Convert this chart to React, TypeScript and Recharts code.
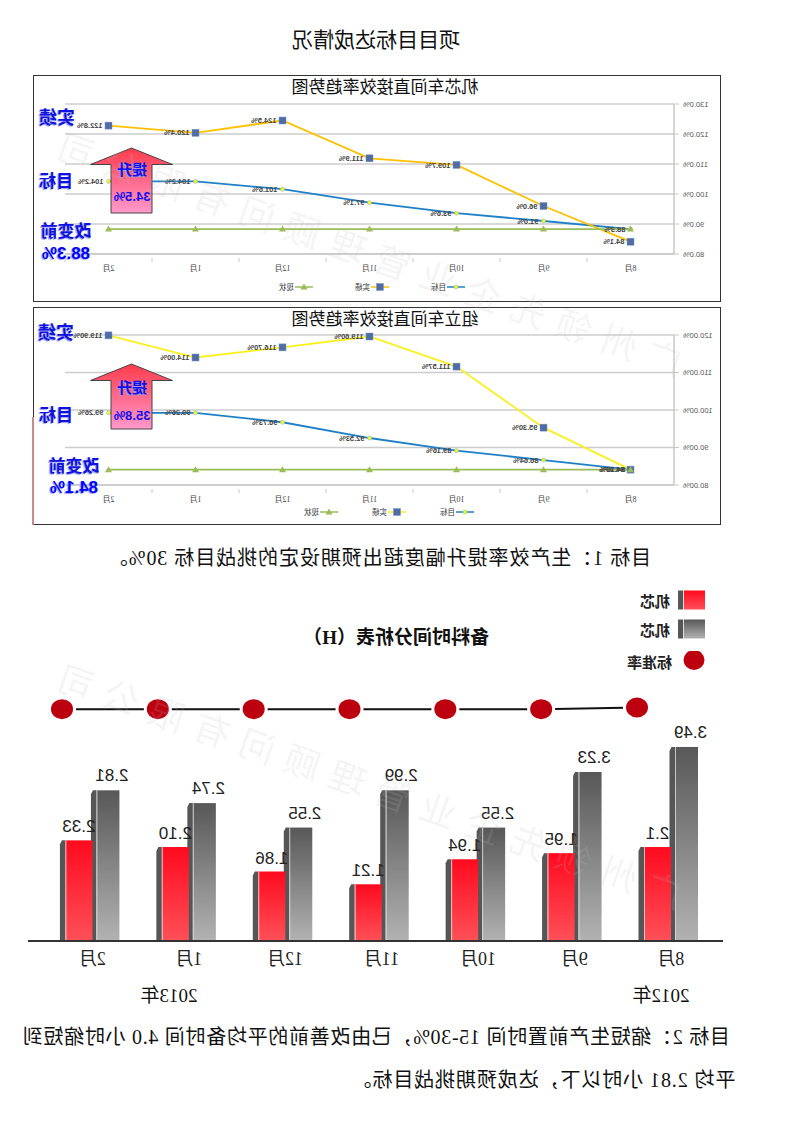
import React from "react";
import {
  Bar,
  CartesianGrid,
  ComposedChart,
  LabelList,
  Legend,
  Line,
  LineChart,
  XAxis,
  YAxis,
} from "recharts";

const SANS = '"Liberation Sans", "Noto Sans CJK SC", sans-serif';
const CJK = '"Liberation Serif", "Noto Sans CJK SC", serif';

const trendMonths = ["8月", "9月", "10月", "11月", "12月", "1月", "2月"];

const coreTarget = [88.3, 91.0, 93.6, 97.1, 101.6, 104.2, 104.2];
const coreActual = [84.1, 96.0, 109.7, 111.9, 124.5, 120.4, 122.8];
const coreBase = [88.3, 88.3, 88.3, 88.3, 88.3, 88.3, 88.3];
const coreTicks = [80, 90, 100, 110, 120, 130];

const assyTarget = [84.1, 86.64, 89.16, 92.53, 96.73, 99.26, 99.26];
const assyActual = [84.1, 95.3, 111.57, 119.6, 116.7, 114.0, 119.9];
const assyBase = [84.1, 84.1, 84.1, 84.1, 84.1, 84.1, 84.1];
const assyTicks = [80, 90, 100, 110, 120];

const prepMonths = ["8月", "9月", "10月", "11月", "12月", "1月", "2月"];
// printed labels of the bars
const greyLabels = ["3.49", "3.23", "2.55", "2.99", "2.55", "2.74", "2.81"];
const redLabels = ["2.1", "1.95", "1.94", "1.21", "1.86", "2.10", "2.33"];
// the bars in the source are not drawn to scale with their labels, so these are read off the bar heights
const greyDrawn = [3.49, 3.04, 2.04, 2.71, 2.04, 2.48, 2.71];
const redDrawn = [1.69, 1.58, 1.47, 1.02, 1.25, 1.69, 1.81];
const standardRate = [4.2, 4.17, 4.17, 4.17, 4.17, 4.17, 4.17];

const Txt = ({ x, y, size, children, color = "#111", weight = 400, spacing = 0, shadow, family = CJK }: any) => (
  <div
    style={{
      position: "absolute",
      left: x,
      top: y,
      transform: "translate(-50%,-50%)",
      fontSize: size,
      fontWeight: weight,
      letterSpacing: spacing,
      color,
      whiteSpace: "nowrap",
      fontFamily: family,
      textShadow: shadow,
      lineHeight: 1,
    }}
  >
    {children}
  </div>
);

const SquareDot = ({ cx, cy }: any) => (
  <rect x={cx - 3.5} y={cy - 3.5} width={7} height={7} fill="#4F6CA8" stroke="#7F93BE" strokeWidth={0.5} />
);
const RoundDot = ({ cx, cy }: any) => (
  <circle cx={cx} cy={cy} r={2} fill="#FFFF00" stroke="#8DB4D8" strokeWidth={0.6} />
);
const TriDot = ({ cx, cy }: any) => (
  <path d={`M${cx} ${cy - 3.5}L${cx + 3.5} ${cy + 2.5}L${cx - 3.5} ${cy + 2.5}Z`} fill="#9BBB59" />
);

const markers: Record<string, any> = { 目标: RoundDot, 实绩: SquareDot, 现状: TriDot };

const TrendLegend = ({ payload, gap }: any) => (
  <div style={{ display: "flex", columnGap: gap, fontFamily: CJK, fontSize: 7.5, color: "#333" }}>
    {(payload || []).map((p: any) => {
      const M = markers[p.value];
      return (
        <div key={p.value} style={{ display: "flex", alignItems: "center", columnGap: 1 }}>
          <svg width={18} height={8}>
            <line x1={0} x2={18} y1={4} y2={4} stroke={p.color} strokeWidth={1.5} />
            <M cx={9} cy={4} />
          </svg>
          <span>{p.value}</span>
        </div>
      );
    })}
  </div>
);

const MonthTick = ({ x, y, payload, step }: any) => (
  <g>
    <text x={x} y={y + 9} textAnchor="middle" fontSize={8} fontFamily={CJK} fill="#444">
      {payload.value}
    </text>
    <line x1={x + step / 2} x2={x + step / 2} y1={y - 4} y2={y} stroke="#C8C8C8" />
  </g>
);

const TrendChart = ({ target, actual, base, ticks, domain, actualColor, digits, height, top, bottom, legendLeft, legendTop, legendGap }: any) => {
  const rows = trendMonths.map((month, i) => ({ month, target: target[i], actual: actual[i], base: base[i] }));
  const fmt = (v: number) => v.toFixed(digits) + "%";
  const labelStyle = { fontSize: 7.5, fontWeight: 700, fontFamily: SANS, fill: "#444" };
  return (
    <LineChart
      width={688}
      height={height}
      data={rows}
      margin={{ top, right: 32, bottom, left: 0 }}
    >
      <CartesianGrid vertical={false} stroke="#CCCCCC" strokeWidth={1.5} />
      <XAxis
        dataKey="month"
        height={30}
        interval={0}
        padding={{ left: 43.5, right: 43.5 }}
        axisLine={{ stroke: "#C8C8C8", strokeWidth: 1.5 }}
        tickLine={false}
        tick={(p: any) => <MonthTick {...p} step={87} />}
      />
      <YAxis
        width={47}
        domain={domain}
        ticks={ticks}
        interval={0}
        tickFormatter={(v: number) => v.toFixed(digits === 2 ? 2 : 1) + "%"}
        axisLine={{ stroke: "#C8C8C8", strokeWidth: 1.5 }}
        tickLine={{ stroke: "#C8C8C8" }}
        tickSize={5}
        tickMargin={4}
        tick={{ fontSize: 7.5, fontFamily: SANS, fill: "#555" }}
      />
      <Line
        dataKey="target"
        name="目标"
        stroke="#1F80C8"
        strokeWidth={1.8}
        dot={(p: any) => <RoundDot key={p.index} {...p} />}
        isAnimationActive={false}
      >
        <LabelList dataKey="target" position="right" offset={5} formatter={fmt} style={labelStyle} />
      </Line>
      <Line
        dataKey="actual"
        name="实绩"
        stroke={actualColor}
        strokeWidth={1.8}
        dot={(p: any) => <SquareDot key={p.index} {...p} />}
        isAnimationActive={false}
      >
        <LabelList dataKey="actual" position="right" offset={6} formatter={fmt} style={labelStyle} />
      </Line>
      <Line
        dataKey="base"
        name="现状"
        stroke="#9BBB59"
        strokeWidth={1.8}
        dot={(p: any) => <TriDot key={p.index} {...p} />}
        isAnimationActive={false}
      />
      <Legend
        layout="horizontal"
        verticalAlign="middle"
        itemSorter={null}
        wrapperStyle={{ left: legendLeft, top: legendTop, width: 260 }}
        content={(p: any) => <TrendLegend {...p} gap={legendGap} />}
      />
    </LineChart>
  );
};

const Arrow = ({ top, id }: { top: number; id: string }) => (
  <svg
    width={90}
    height={72}
    style={{ position: "absolute", left: 620, top, overflow: "visible" }}
    viewBox="0 0 90 72"
  >
    <defs>
      <linearGradient id={id} x1="0" y1="0" x2="0" y2="1">
        <stop offset="0%" stopColor="#FF3B4B" />
        <stop offset="100%" stopColor="#FF99CC" />
      </linearGradient>
    </defs>
    <path
      d="M41.5 0L82.5 16.5H62V65H21V16.5H0.5Z"
      fill={`url(#${id})`}
      stroke="#444"
      strokeWidth={1}
    />
  </svg>
);

const BarShape = ({ x, y, width, height, gradient }: any) => {
  const side = 5.5;
  return (
    <g>
      <path
        d={`M${x + width} ${y}L${x + width + side - 2} ${y}L${x + width + side} ${y + 4}L${x + width + side} ${y + height}L${x + width} ${y + height}Z`}
        fill="#565656"
      />
      <rect x={x} y={y} width={width} height={height} fill={`url(#${gradient})`} />
      <rect x={x + width - 1} y={y} width={1} height={height} fill="#E0E0E0" opacity={0.8} />
    </g>
  );
};

const PrepLegend = ({ payload }: any) => {
  const items = payload || [];
  const order = [items[1], items[0], items[2]].filter(Boolean);
  return (
    <div style={{ fontFamily: CJK, fontSize: 15, fontWeight: 700, color: "#222" }}>
      {order.map((p: any, i: number) => (
        <div key={i} style={{ display: "flex", alignItems: "center", height: 20, marginBottom: i === 0 ? 9 : 12, columnGap: 8 }}>
          <svg width={27} height={20}>
            {i < 2 ? (
              <>
                <rect x={0} y={0.5} width={21} height={19} fill={i === 0 ? "url(#redFront)" : "url(#greyFront)"} />
                <rect x={21} y={0.5} width={1} height={19} fill="#DDD" />
                <rect x={22} y={0.5} width={5} height={19} fill="#565656" />
              </>
            ) : (
              <ellipse cx={11} cy={9} rx={10.5} ry={10} fill="#BC0010" />
            )}
          </svg>
          <span style={i === 2 ? { marginLeft: -2 } : undefined}>{p.value}</span>
        </div>
      ))}
    </div>
  );
};

const BarValue = ({ x, y, width, value, dx, dy }: any) => (
  <text
    x={x + width / 2 + dx}
    y={y + dy}
    textAnchor="middle"
    fontSize={17}
    fontFamily={SANS}
    fill="#222"
  >
    {value}
  </text>
);

const PrepChart = () => {
  const rows = prepMonths.map((month, i) => ({
    month,
    grey: greyDrawn[i],
    red: redDrawn[i],
    rate: standardRate[i],
    greyLabel: greyLabels[i],
    redLabel: redLabels[i],
  }));
  return (
    <ComposedChart
      width={793}
      height={420}
      data={rows}
      margin={{ top: 83, right: 28, bottom: 29, left: 70 }}
    >
      <defs>
        <linearGradient id="redFront" x1="0" y1="0" x2="0" y2="1">
          <stop offset="0%" stopColor="#FF0A1E" />
          <stop offset="100%" stopColor="#FF5058" />
        </linearGradient>
        <linearGradient id="greyFront" x1="0" y1="0" x2="0" y2="1">
          <stop offset="0%" stopColor="#585858" />
          <stop offset="100%" stopColor="#B2B2B2" />
        </linearGradient>
      </defs>
      <XAxis
        dataKey="month"
        height={30}
        scale="band"
        interval={0}
        padding={{ left: 4, right: 16 }}
        axisLine={{ stroke: "#333", strokeWidth: 2 }}
        tickLine={false}
        tickMargin={5}
        tick={{ fontSize: 18, fontFamily: CJK, fill: "#222" }}
      />
      <XAxis
        xAxisId="rate"
        dataKey="month"
        scale="point"
        hide
        padding={{ left: 86, right: 34 }}
      />
      <YAxis hide domain={[0, 5]} />
      <Bar
        dataKey="grey"
        name="机芯"
        barSize={23}
        fill="#8A8A8A"
        shape={(p: any) => <BarShape {...p} gradient="greyFront" />}
        isAnimationActive={false}
      >
        <LabelList dataKey="greyLabel" content={(p: any) => <BarValue {...p} dx={-4} dy={-9} />} />
      </Bar>
      <Bar
        dataKey="red"
        name="机芯"
        barSize={27}
        fill="#FF2030"
        shape={(p: any) => <BarShape {...p} gradient="redFront" />}
        isAnimationActive={false}
      >
        <LabelList dataKey="redLabel" content={(p: any) => <BarValue {...p} dx={0} dy={-8} />} />
      </Bar>
      <Line
        xAxisId="rate"
        dataKey="rate"
        name="标准率"
        stroke="#111"
        strokeWidth={2}
        dot={({ cx, cy, index }: any) => (
          <ellipse key={index} cx={cx} cy={cy} rx={12.5} ry={11.5} fill="#BC0010" stroke="#FFF" strokeWidth={3} />
        )}
        isAnimationActive={false}
      />
      <Legend
        layout="horizontal"
        verticalAlign="middle"
        itemSorter={null}
        wrapperStyle={{ left: 88, top: 10, width: 120 }}
        content={(p: any) => <PrepLegend {...p} />}
      />
    </ComposedChart>
  );
};

const Frame = ({ top, height }: { top: number; height: number }) => (
  <div
    style={{
      position: "absolute",
      left: 72,
      top,
      width: 686,
      height: height - 2,
      border: "1px solid #333",
    }}
  />
);

const Mark = ({ x, y }: { x: number; y: number }) => (
  <div
    style={{
      position: "absolute",
      left: x,
      top: y,
      transformOrigin: "0 50%",
      transform: "rotate(-19.5deg)",
      fontFamily: CJK,
      fontSize: 36,
      letterSpacing: 12,
      whiteSpace: "nowrap",
      color: "rgba(190,190,190,0.16)",
      pointerEvents: "none",
      lineHeight: 1,
    }}
  >
    广州领先企业管理顾问有限公司
  </div>
);

const blueGlow = "1px 1px 1px #9AA0E8";

export default function App() {
  return (
    <div
      style={{
        position: "absolute",
        left: 0,
        top: 0,
        width: 793,
        height: 1122,
        background: "#FFF",
        overflow: "hidden",
        transform: "scaleX(-1)",
      }}
    >
      <Txt x={417} y={40} size={21}>项目目标达成情况</Txt>

      <Frame top={75} height={227} />
      <div style={{ position: "absolute", left: 72, top: 75 }}>
        <TrendChart
          target={coreTarget}
          actual={coreActual}
          base={coreBase}
          ticks={coreTicks}
          domain={[80, 130]}
          actualColor="#FFC000"
          digits={1}
          height={227}
          top={29}
          bottom={18}
          legendLeft={256}
          legendTop={206}
          legendGap={42}
        />
      </div>
      <Txt x={408} y={87} size={17}>机芯车间直接效率趋势图</Txt>
      <Arrow top={148} id="arrowA" />
      <Txt x={661} y={170} size={15} weight={700} color="#1010F0" shadow={blueGlow}>提升</Txt>
      <Txt x={661} y={196} size={13} weight={700} color="#1010F0" family={SANS}>34.5%</Txt>
      <Txt x={736} y={118} size={18} weight={700} color="#1010E0" shadow={blueGlow}>实绩</Txt>
      <Txt x={737} y={181} size={17} weight={700} color="#1010E0" shadow={blueGlow}>目标</Txt>
      <Txt x={727} y={231} size={17} weight={700} color="#1010E0" shadow={blueGlow}>改变前</Txt>
      <Txt x={727} y={253} size={17} weight={700} color="#0000FF" family={SANS} shadow={blueGlow}>88.3%</Txt>

      <Frame top={307} height={218} />
      <div style={{ position: "absolute", left: 759, top: 417, width: 1.5, height: 108, background: "#C88A8A" }} />
      <div style={{ position: "absolute", left: 72, top: 307 }}>
        <TrendChart
          target={assyTarget}
          actual={assyActual}
          base={assyBase}
          ticks={assyTicks}
          domain={[80, 120]}
          actualColor="#FAF01E"
          digits={2}
          height={218}
          top={28}
          bottom={10}
          legendLeft={247}
          legendTop={199}
          legendGap={34}
        />
      </div>
      <Txt x={408} y={319} size={17}>组立车间直接效率趋势图</Txt>
      <Arrow top={364} id="arrowB" />
      <Txt x={661} y={388} size={15} weight={700} color="#1010F0" shadow={blueGlow}>提升</Txt>
      <Txt x={661} y={415} size={13} weight={700} color="#1010F0" family={SANS}>35.8%</Txt>
      <Txt x={737} y={333} size={18} weight={700} color="#1010E0" shadow={blueGlow}>实绩</Txt>
      <Txt x={737} y={415} size={17} weight={700} color="#1010E0" shadow={blueGlow}>目标</Txt>
      <Txt x={719} y={466} size={17} weight={700} color="#1010E0" shadow={blueGlow}>改变前</Txt>
      <Txt x={719} y={487} size={17} weight={700} color="#0000FF" family={SANS} shadow={blueGlow}>84.1%</Txt>

      <Txt x={414} y={558} size={20} spacing={0.95}>目标 1：生产效率提升幅度超出预期设定的挑战目标 30%。</Txt>

      <div style={{ position: "absolute", left: 0, top: 580 }}>
        <PrepChart />
      </div>
      <Txt x={397} y={637} size={19} weight={700}>备料时间分析表（H）</Txt>
      <Txt x={132} y={995} size={19}>2012年</Txt>
      <Txt x={624} y={995} size={19}>2013年</Txt>

      <Txt x={417} y={1037} size={20} spacing={0.7}>目标 2：缩短生产前置时间 15-30%，已由改善前的平均备时间 4.0 小时缩短到</Txt>
      <Txt x={250} y={1080} size={20} spacing={0.9}>平均 2.81 小时以下，达成预期挑战目标。</Txt>

      <Mark x={112} y={348} />
      <Mark x={112} y={880} />
    </div>
  );
}
